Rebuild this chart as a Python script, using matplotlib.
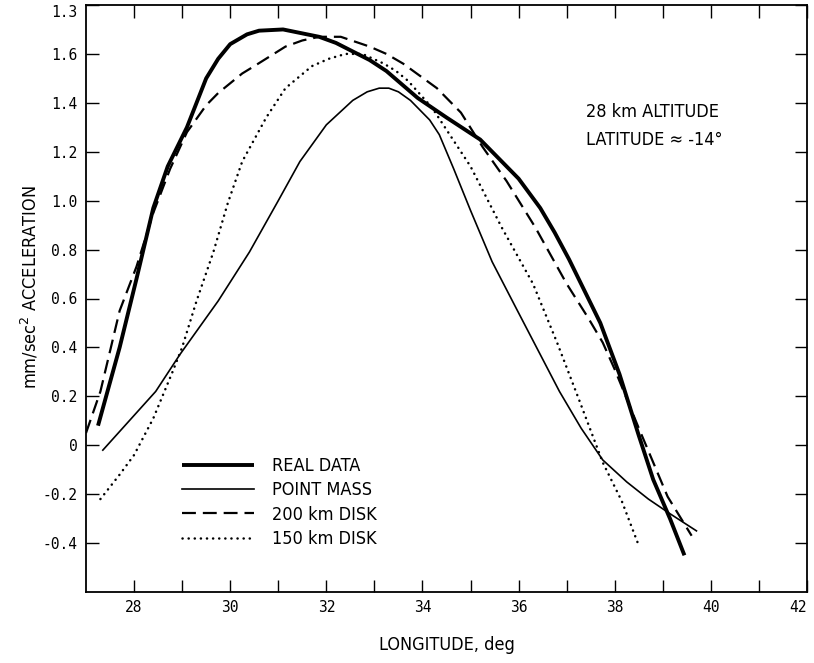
import matplotlib
matplotlib.use("Agg")
import matplotlib.pyplot as plt

plt.rcParams['lines.scale_dashes'] = False

# ---- data ----
real_x = [27.25, 27.7, 28.05, 28.4, 28.7, 29.1, 29.5, 29.75, 30.0, 30.35, 30.6, 31.1,
          31.85, 32.2, 32.55, 32.9, 33.25, 33.9, 34.5, 35.2, 35.6, 36.0, 36.45, 36.75,
          37.05, 37.4, 37.7, 38.1, 38.5, 38.8, 39.15, 39.45]
real_y = [0.08, 0.40, 0.68, 0.97, 1.14, 1.30, 1.50, 1.58, 1.64, 1.68, 1.695, 1.70,
          1.67, 1.645, 1.61, 1.575, 1.53, 1.42, 1.34, 1.25, 1.17, 1.09, 0.97, 0.87,
          0.76, 0.62, 0.50, 0.29, 0.04, -0.14, -0.30, -0.45]

pm_x = [27.35, 27.9, 28.45, 28.95, 29.75, 30.4, 31.0, 31.45, 32.0, 32.55, 32.85, 33.1,
        33.3, 33.5, 33.75, 33.95, 34.15, 34.35, 34.65, 35.0, 35.45, 35.95, 36.4, 36.85,
        37.3, 37.75, 38.25, 38.7, 39.15, 39.7]
pm_y = [-0.02, 0.10, 0.22, 0.37, 0.59, 0.79, 1.00, 1.16, 1.31, 1.41, 1.445, 1.46,
        1.46, 1.445, 1.41, 1.37, 1.33, 1.27, 1.13, 0.96, 0.75, 0.56, 0.39, 0.22,
        0.07, -0.06, -0.15, -0.22, -0.28, -0.35]

d200_x = [27.0, 27.3, 27.7, 28.05, 28.4, 28.75, 29.1, 29.5, 29.75, 30.0, 30.25, 30.5,
          31.15, 31.5, 31.85, 32.3, 32.9, 33.25, 33.6, 34.3, 34.8, 35.25, 35.75, 36.35,
          37.0, 37.45, 37.75, 38.0, 38.5, 39.1, 39.6]
d200_y = [0.05, 0.22, 0.55, 0.73, 0.95, 1.13, 1.28, 1.39, 1.44, 1.48, 1.52, 1.55,
          1.63, 1.655, 1.67, 1.67, 1.63, 1.60, 1.56, 1.46, 1.36, 1.22, 1.08, 0.89,
          0.66, 0.52, 0.42, 0.31, 0.07, -0.21, -0.37]

d150_x = [27.3, 27.7, 28.0, 28.4, 28.8, 29.0, 29.3, 29.65, 29.95, 30.25, 30.75, 31.15,
          31.7, 32.05, 32.4, 32.75, 33.2, 33.45, 33.7, 34.2, 35.0, 35.65, 36.3, 36.8,
          37.25, 37.75, 38.15, 38.5]
d150_y = [-0.22, -0.12, -0.04, 0.11, 0.30, 0.40, 0.59, 0.79, 0.99, 1.16, 1.34, 1.46,
          1.55, 1.58, 1.60, 1.60, 1.56, 1.53, 1.49, 1.38, 1.14, 0.89, 0.66, 0.42,
          0.19, -0.07, -0.23, -0.41]

labels = ["REAL DATA", "POINT MASS", "200 km DISK", "150 km DISK"]
xticks = [28, 30, 32, 34, 36, 38, 40, 42]
xminor = [29, 31, 33, 35, 37, 39, 41]
yticks = [-0.4, -0.2, 0, 0.2, 0.4, 0.6, 0.8, 1.0, 1.2, 1.4, 1.6, 1.8]
ytick_labels = ["-0.4", "-0.2", "0", "0.2", "0.4", "0.6", "0.8", "1.0", "1.2", "1.4", "1.6", "1.3"]

cond = ['DejaVu Sans']
mono = ['DejaVu Sans Mono']

fig = plt.figure(figsize=(8.14, 6.63), dpi=100)
ax = fig.add_axes([86/814, 1-592/663, (807-86)/814, (592-5)/663])

ax.plot(real_x, real_y, color='black', lw=2.8, solid_capstyle='butt',
        solid_joinstyle='round', label=labels[0])
ax.plot(pm_x, pm_y, color='black', lw=1.2, solid_joinstyle='round', label=labels[1])
ax.plot(d200_x, d200_y, color='black', lw=1.6, linestyle=(0, (10, 5)), label=labels[2])
ax.plot(d150_x, d150_y, color='black', lw=1.8, linestyle=(0, (0.1, 4.3)),
        dash_capstyle='round', label=labels[3])

ax.set_xlim(27, 42)
ax.set_ylim(-0.6, 1.8)
ax.set_xticks(xticks)
ax.set_xticks(xminor, minor=True)
xl = ax.set_xticklabels([str(v) for v in xticks], family=mono, fontsize=10.5)
xl[-1].set_ha('right')
ax.set_yticks(yticks)
yl = ax.set_yticklabels(ytick_labels, family=mono, fontsize=10.5)
yl[-1].set_va('top')
ax.tick_params(axis='both', which='both', direction='in', length=9, width=1.0,
               top=True, right=True, color='black', pad=6)
for s in ax.spines.values():
    s.set_linewidth(1.3)

tkw = dict(family=cond, fontstretch='condensed')
ax.text(37.41, 1.362, "28 km ALTITUDE", fontsize=13, ha='left', va='center', **tkw)
ax.text(37.41, 1.247, "LATITUDE \u2248 -14\u00b0", fontsize=13, ha='left', va='center', **tkw)

leg = ax.legend(loc='upper left', bbox_to_anchor=((182-86)/721, (592-457)/587),
                frameon=False, borderpad=0, borderaxespad=0, handlelength=4.0,
                handletextpad=1.0, labelspacing=0.35,
                prop={'family': cond, 'size': 13, 'stretch': 'condensed'})

fig.text(447/814, 1-645/663, "LONGITUDE, deg", fontsize=13, ha='center', va='center', **tkw)
fig.text(30/814, 1-287/663, "mm/sec$^2$ ACCELERATION", fontsize=13,
         rotation=90, ha='center', va='center', **tkw)

fig.savefig("out.png", dpi=100)
